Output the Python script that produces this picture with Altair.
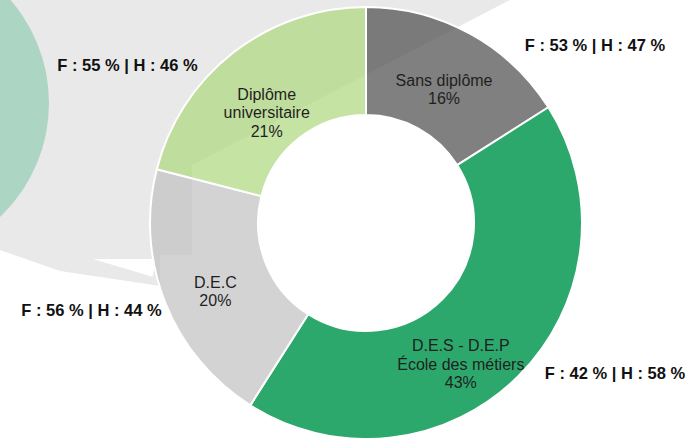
import math
import altair as alt
import pandas as pd

# ---- data ----
categories = ["Sans diplôme", "D.E.S - D.E.P\nÉcole des métiers", "D.E.C", "Diplôme\nuniversitaire"]
pourcentages = [16, 43, 20, 21]
femmes = [53, 42, 56, 55]
hommes = [47, 58, 44, 46]

# ---- styles ----
slice_colors = ["#4a4a4a", "#2ca86c", "#c0c0c0", "#acd77c"]
FONT = "Liberation Sans"
CX, CY = 366, 223

df = pd.DataFrame({
    "cat": categories,
    "val": pourcentages,
    "f": femmes,
    "h": hommes,
    "ordre": list(range(len(categories))),
})

one = pd.DataFrame({"k": [0]})

# ---- decorative background ----
blob = alt.Chart(one).mark_arc(
    color="#e9e9e9", theta=math.pi, theta2=2 * math.pi + 1.092, radius=1500
).encode(x=alt.value(192), y=alt.value(165))

cut1 = alt.Chart(one).mark_arc(
    color="white", theta=1.908, theta2=5.049, radius=1200
).encode(x=alt.value(0), y=alt.value(250))

cut2 = alt.Chart(one).mark_arc(
    color="white", theta=1.719, theta2=4.860, radius=1200
).encode(x=alt.value(60), y=alt.value(271))

cut3 = alt.Chart(one).mark_rect(color="white").encode(
    x=alt.value(160), x2=alt.value(200), y=alt.value(255), y2=alt.value(300)
)

streak = alt.Chart(one).mark_arc(
    color="white", theta=math.pi / 2, theta2=1.861, radius=62
).encode(x=alt.value(93), y=alt.value(259))

teal = alt.Chart(one).mark_arc(
    color="#acd5c3", theta=0, theta2=2 * math.pi, radius=157
).encode(x=alt.value(-108), y=alt.value(103))

# ---- donut ----
base = alt.Chart(df).encode(
    theta=alt.Theta("val:Q", stack=True),
    order=alt.Order("ordre:Q"),
    x=alt.value(CX),
    y=alt.value(CY),
)

donut = base.mark_arc(innerRadius=108, outerRadius=216, stroke="white", strokeWidth=2).encode(
    color=alt.Color("cat:N", scale=alt.Scale(domain=categories, range=slice_colors), legend=None),
    fillOpacity=alt.condition("datum.ordre == 1", alt.value(1.0), alt.value(0.7)),
)

label_expr = "split(datum.cat + '\\n' + datum.val + '%', '\\n')"

labels_main = base.transform_calculate(
    lbl=f"datum.ordre == 1 ? '' : {label_expr}"
).mark_text(
    radius=162, align="center", baseline="middle", fontSize=16, lineHeight=18.3,
    font=FONT, color="#1f1f1f"
).encode(text=alt.Text("lbl:N"))

labels_des = base.transform_calculate(
    lbl=f"datum.ordre == 1 ? {label_expr} : ''"
).mark_text(
    radius=156, dx=-15.5, dy=13, align="center", baseline="middle", fontSize=16, lineHeight=18.3,
    font=FONT, color="#1f1f1f"
).encode(text=alt.Text("lbl:N"))


def fh_label(i, x, y):
    return alt.Chart(df).transform_filter(
        f"datum.ordre == {i}"
    ).transform_calculate(
        t="'F : ' + datum.f + ' % | H : ' + datum.h + ' %'"
    ).mark_text(
        align="center", baseline="alphabetic", fontSize=16.5, fontWeight="bold",
        font=FONT, color="#111111"
    ).encode(text="t:N", x=alt.value(x), y=alt.value(y))


fh = [
    fh_label(0, 595, 51),
    fh_label(1, 615, 379),
    fh_label(2, 91.5, 316),
    fh_label(3, 127.5, 71),
]

chart = alt.layer(
    blob, cut1, cut2, cut3, streak, teal, donut, labels_main, labels_des, *fh
).properties(
    width=686, height=438,
    autosize=alt.AutoSizeParams(type="none"),
    padding=0,
    background="white",
).configure_view(stroke=None)

chart.save("out.html", embed_options={"renderer": "svg", "actions": False})
